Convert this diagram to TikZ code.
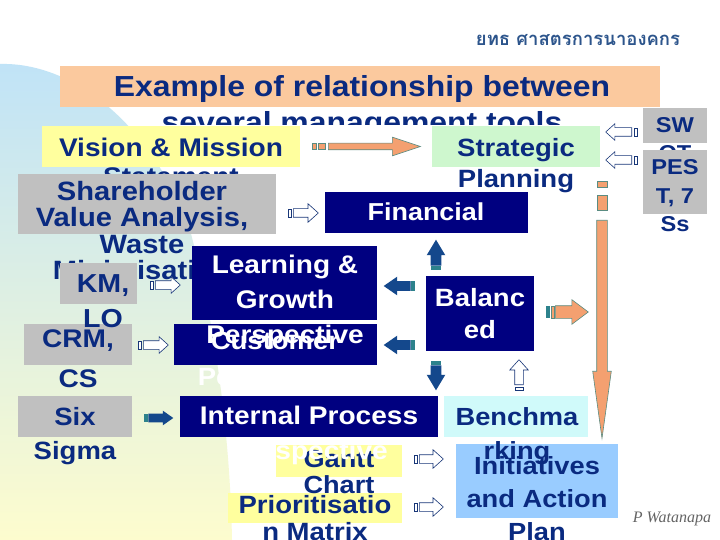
\documentclass[tikz,border=0pt]{standalone}
\usepackage{fontspec}
\setmainfont{Liberation Sans}[FakeStretch=1.1]
\newfontfamily\thaifont[Script=Thai]{Loma}
\newfontfamily\signfont{Liberation Serif}
\usetikzlibrary{shapes.arrows}

\definecolor{txtblue}{RGB}{10,42,128}
\definecolor{thaiblue}{RGB}{45,85,140}
\definecolor{navybox}{RGB}{0,0,128}
\definecolor{graybox}{RGB}{192,192,192}
\definecolor{peachbox}{RGB}{251,201,158}
\definecolor{yellowbox}{RGB}{255,255,158}
\definecolor{mintbox}{RGB}{206,247,206}
\definecolor{cyanbox}{RGB}{208,250,250}
\definecolor{skybox}{RGB}{153,204,255}
\definecolor{orfill}{RGB}{244,160,112}
\definecolor{orline}{RGB}{90,140,130}
\definecolor{navyarrow}{RGB}{20,72,140}
\definecolor{tealstripe}{RGB}{45,130,140}
\definecolor{hollowline}{RGB}{25,55,120}
\definecolor{bgtop}{RGB}{192,227,247}
\definecolor{bgmid}{RGB}{232,245,232}
\definecolor{bgbot}{RGB}{253,252,206}
\definecolor{signgray}{RGB}{100,100,100}

\newcommand{\fsz}[2]{\fontsize{#1}{#2}\selectfont}

\begin{document}
\begin{tikzpicture}[x=1pt, y=-1pt,
    box/.style={anchor=north west, inner sep=0pt, outer sep=0pt},
    txt/.style={anchor=base, align=center, inner sep=0pt, text=txtblue},
    wtxt/.style={txt, text=white},
    orarrow/.style n args={4}{single arrow, draw=orline, line width=0.6pt, fill=orfill,
        inner xsep=0pt, inner ysep=#2/2, minimum height=#1, single arrow head extend=(#3-#2)/2,
        single arrow tip angle=#4, anchor=tail},
    navarrow/.style n args={4}{orarrow={#1}{#2}{#3}{#4}, draw=none, fill=navyarrow},
    hollarrow/.style n args={4}{orarrow={#1}{#2}{#3}{#4}, draw=hollowline, fill=white},
    orstripe/.style={fill=orfill, draw=orline, line width=0.6pt},
    tlstripe/.style={fill=tealstripe},
    holstripe/.style={fill=white, draw=hollowline, line width=0.6pt}]
    \useasboundingbox (0,0) rectangle (720,540);
    \fill[white] (0,0) rectangle (720,540);
    \shade[top color=bgtop, middle color=bgmid, bottom color=bgbot]
        (0,64) .. controls (70,62) and (150,120) .. (190,230)
        .. controls (214,320) and (230,430) .. (232,540) -- (0,540) -- cycle;

    \node[txt, text=thaiblue, font=\thaifont\bfseries\fsz{18.5}{20}] (thai) at (578,46) {ยทธ ศาสตรการนาองคกร};

    \node[box, fill=peachbox, minimum width=600pt, minimum height=41pt] (title) at (60,66) {};
    \begin{scope}
        \clip (0,0) rectangle (720,125);
        \node[txt, font=\bfseries\fsz{29}{36}] (ttl) at (362,133) {Example of relationship between\\several management tools};
    \end{scope}

    \node[box, fill=yellowbox, minimum width=258pt, minimum height=41pt] (vision) at (42,126) {};
    \node[txt, font=\bfseries\fsz{25.5}{29}] (vistxt) at (171,186) {Vision \& Mission\\Statement};
    \node[box, fill=graybox, minimum width=64pt, minimum height=35pt] (swot) at (643,108) {};
    \node[txt, font=\bfseries\fsz{21.5}{28}] (swottxt) at (675,161) {SW\\OT};
    \node[box, fill=mintbox, minimum width=168pt, minimum height=41pt] (strat) at (432,126) {};
    \node[txt, font=\bfseries\fsz{25}{31}] (strattxt) at (516,188) {Strategic\\Planning};
    \node[box, fill=graybox, minimum width=258pt, minimum height=60pt] (share) at (18,174) {};
    \node[txt, font=\bfseries\fsz{26.5}{26.5}] (sharetxt) at (142,279.5) {Shareholder\\Value Analysis,\\Waste\\Minimisation};
    \node[box, fill=graybox, minimum width=64pt, minimum height=64pt] (pest) at (643,150) {};
    \node[txt, font=\bfseries\fsz{21.5}{28.5}] (pesttxt) at (675,232) {PES\\T, 7\\Ss};
    \node[box, fill=navybox, minimum width=203pt, minimum height=41pt] (fin) at (325,192) {};
    \node[wtxt, font=\bfseries\fsz{24.5}{30}] (fintxt) at (426,221) {Financial};

    \node[box, fill=navybox, minimum width=203pt, minimum height=41pt] (cust) at (174,324) {};
    \node[wtxt, font=\bfseries\fsz{25}{36}] (custtxt) at (275,385) {Customer\\Perspective};
    \node[box, fill=navybox, minimum width=185pt, minimum height=74pt] (learn) at (192,246) {};
    \node[wtxt, font=\bfseries\fsz{25.5}{35}] (learntxt) at (285,343) {Learning \&\\Growth\\Perspective};
    \node[box, fill=graybox, minimum width=108pt, minimum height=41pt] (crm) at (24,324) {};
    \node[txt, font=\bfseries\fsz{25.5}{40}] (crmtxt) at (78,387) {CRM,\\CS};
    \node[box, fill=graybox, minimum width=77pt, minimum height=41pt] (km) at (60,263) {};
    \node[txt, font=\bfseries\fsz{26}{35}] (kmtxt) at (103,327) {KM,\\LO};
    \node[box, fill=navybox, minimum width=108pt, minimum height=75pt] (bsc) at (426,276) {};
    \node[wtxt, font=\bfseries\fsz{25}{32}] (bsctxt) at (480,338) {Balanc\\ed};

    \node[box, fill=skybox, minimum width=162pt, minimum height=74pt] (init) at (456,444) {};
    \node[txt, font=\bfseries\fsz{24.8}{33}] (inittxt) at (537,540) {Initiatives\\and Action\\Plan};
    \node[box, fill=cyanbox, minimum width=144pt, minimum height=41pt] (bench) at (444,396) {};
    \node[txt, font=\bfseries\fsz{24.8}{34}] (benchtxt) at (517,459) {Benchma\\rking};
    \node[box, fill=yellowbox, minimum width=174pt, minimum height=30pt] (prio) at (228,493) {};
    \node[txt, font=\bfseries\fsz{25}{27}] (priotxt) at (315,540) {Prioritisatio\\n Matrix};
    \node[box, fill=yellowbox, minimum width=126pt, minimum height=32pt] (gantt) at (276,445) {};
    \node[txt, font=\bfseries\fsz{24.7}{26}] (gantttxt) at (339,493) {Gantt\\Chart};
    \node[box, fill=navybox, minimum width=258pt, minimum height=41pt] (intl) at (180,396) {};
    \node[wtxt, font=\bfseries\fsz{25.5}{35}] (intltxt) at (309,459) {Internal Process\\Perspective};
    \node[box, fill=graybox, minimum width=114pt, minimum height=41pt] (six) at (18,396) {};
    \node[txt, font=\bfseries\fsz{25}{34}] (sixtxt) at (75,459) {Six\\Sigma};

    \node[txt, text=signgray, font=\signfont\itshape\fsz{16}{18}] (sign) at (672,522) {P Watanapa};

    \filldraw[orstripe] (312,143.5) rectangle (316,149.5);
    \filldraw[orstripe] (318,143.5) rectangle (325,149.5);
    \node[orarrow={92}{6}{18}{36.9}] (vis2str) at (328,146.5) {};
    \filldraw[orstripe] (597,181) rectangle (607,187);
    \filldraw[orstripe] (597,195) rectangle (607,210);
    \node[orarrow={218}{10}{18}{15.8}, rotate=-90] (str2init) at (602,220) {};
    \fill[tlstripe] (546,306) rectangle (550,318);
    \filldraw[orstripe] (551,306) rectangle (554,318);
    \node[orarrow={33}{12}{24}{73.7}] (bsc2str) at (555,312) {};

    \fill[tlstripe] (431,266) rectangle (441,270);
    \node[navarrow={26}{10}{18}{61.9}, rotate=90] (bsc2fin) at (436,266) {};
    \fill[tlstripe] (411,281) rectangle (415,291);
    \node[navarrow={27}{9}{18}{69.4}, rotate=180] (bsc2learn) at (411,286) {};
    \fill[tlstripe] (411,340) rectangle (415,350);
    \node[navarrow={27}{9}{18}{69.4}, rotate=180] (bsc2cust) at (411,345) {};
    \fill[tlstripe] (431,361) rectangle (441,365);
    \node[navarrow={25}{10}{18}{61.9}, rotate=-90] (bsc2intl) at (436,365) {};
    \fill[tlstripe] (144,414) rectangle (148,422);
    \node[navarrow={25}{8}{14}{70}] (six2intl) at (148,418) {};

    \filldraw[holstripe] (288,209) rectangle (291,217);
    \node[hollarrow={25}{8}{18}{84}] (share2fin) at (293,213) {};
    \filldraw[holstripe] (150,281) rectangle (153,289);
    \node[hollarrow={25}{8}{16}{84}] (km2learn) at (155,285) {};
    \filldraw[holstripe] (138,341) rectangle (141,349);
    \node[hollarrow={25}{8}{16}{84}] (crm2cust) at (143,345) {};
    \filldraw[holstripe] (634,128) rectangle (637,136);
    \node[hollarrow={26}{8}{16}{84}, rotate=180] (swot2str) at (632,132) {};
    \filldraw[holstripe] (634,156) rectangle (637,164);
    \node[hollarrow={26}{8}{16}{84}, rotate=180] (pest2str) at (632,160) {};
    \filldraw[holstripe] (515,387) rectangle (523,390);
    \node[hollarrow={25}{8}{18}{84}, rotate=90] (bench2bsc) at (519,385) {};
    \filldraw[holstripe] (414,455) rectangle (417,463);
    \node[hollarrow={24}{8}{18}{84}] (gantt2init) at (419,459) {};
    \filldraw[holstripe] (414,503) rectangle (417,511);
    \node[hollarrow={24}{8}{18}{84}] (prio2init) at (419,507) {};
\end{tikzpicture}
\end{document}
